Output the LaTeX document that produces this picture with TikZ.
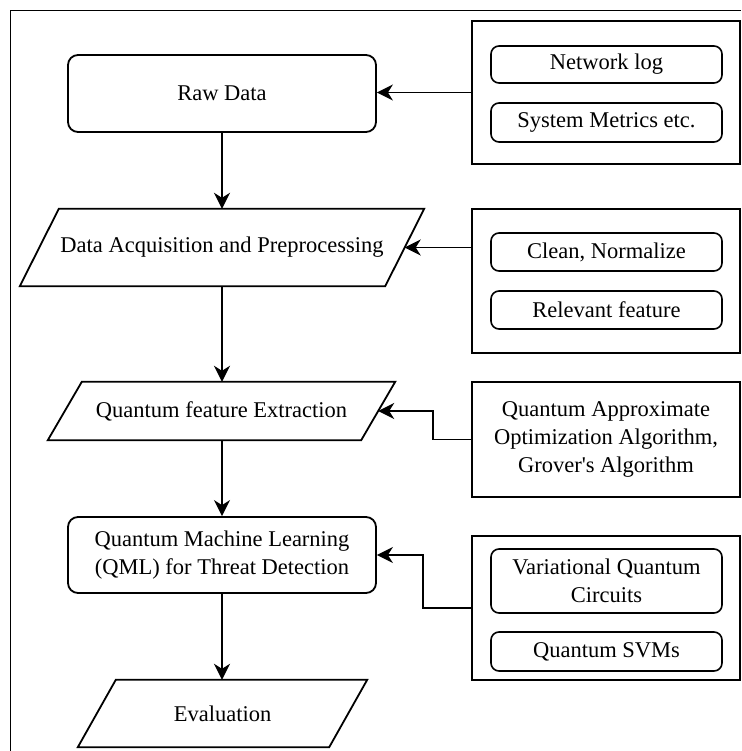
\documentclass[tikz,border=0pt]{standalone}
\usepackage{fontspec}
\setmainfont{Liberation Serif}
\usetikzlibrary{arrows.meta}
\begin{document}
\begin{tikzpicture}[x=1pt,y=-1pt,
  every node/.style={font=\fontsize{22.5}{28}\selectfont, align=center, inner sep=0pt},
  rbox/.style={draw, line width=1.8pt, rounded corners=10pt, minimum width=308pt},
  parabody/.style={rectangle, minimum width=#1},
  paraline/.style={line width=1.8pt, line join=miter},
  panel/.style={draw, line width=1.8pt, minimum width=268pt},
  ibox/.style={draw, line width=1.6pt, rounded corners=8pt, minimum width=231pt},
  arr/.style={line width=1.8pt, -{Stealth[length=16pt,width=16pt,inset=5pt]}},
  frame/.style={line width=1.2pt}
]
\useasboundingbox (0,0) rectangle (741,751);
\draw[frame] (10.7,751) -- (10.7,10.7) -- (741,10.7);

% main flow
\node[rbox, minimum height=77pt] (raw) at (222,93.5) {Raw Data};
\node[parabody=365pt, minimum height=77pt] (dap) at (222,247.5) {Data Acquisition and Preprocessing};
\draw[paraline] ([xshift=-19.5pt]dap.south west) -- ([xshift=-19.5pt]dap.south east) -- ([xshift=19.5pt]dap.north east) -- ([xshift=19.5pt]dap.north west) -- cycle;
\node[parabody=313pt, minimum height=58pt] (qfe) at (221.5,411) {Quantum feature Extraction};
\draw[paraline] ([xshift=-17pt]qfe.south west) -- ([xshift=-17pt]qfe.south east) -- ([xshift=17pt]qfe.north east) -- ([xshift=17pt]qfe.north west) -- cycle;
\node[rbox, minimum height=76pt] (qml) at (222,555) {Quantum Machine Learning\\(QML) for Threat Detection};
\node[parabody=251pt, minimum height=67pt] (eval) at (222.5,713.5) {Evaluation};
\draw[paraline] ([xshift=-19pt]eval.south west) -- ([xshift=-19pt]eval.south east) -- ([xshift=19pt]eval.north east) -- ([xshift=19pt]eval.north west) -- cycle;

% panels
\node[panel, minimum height=143pt] (p1) at (606,92.5) {};
\node[ibox, minimum height=37pt] (nl) at (606.5,64.5) {Network log};
\node[ibox, minimum height=39pt] (sm) at (606.5,122.5) {System Metrics etc.};

\node[panel, minimum height=144pt] (p2) at (606,281) {};
\node[ibox, minimum height=38pt] (cn) at (606.5,252) {Clean, Normalize};
\node[ibox, minimum height=38pt] (rf) at (606.5,310) {Relevant feature};

\node[panel, minimum height=115pt] (p3) at (606,439.5) {Quantum Approximate\\Optimization Algorithm,\\Grover\textquotesingle s Algorithm};

\node[panel, minimum height=144pt] (p4) at (606,608) {};
\node[ibox, minimum height=64pt] (vqc) at (606.5,581) {Variational Quantum\\Circuits};
\node[ibox, minimum height=39pt] (svm) at (606.5,651.5) {Quantum SVMs};

% vertical arrows
\draw[arr] (raw.south) -- (raw.south |- dap.north);
\draw[arr] (raw.south |- dap.south) -- (raw.south |- qfe.north);
\draw[arr] (raw.south |- qfe.south) -- (qml.north);
\draw[arr] (qml.south) -- (qml.south |- eval.north);

% side arrows
\draw[arr] (p1.west) -- (p1.west -| raw.east);
\draw[arr] (dap.east -| p2.west) -- (dap.east);
\draw[arr] (p3.west) -- ([xshift=-38pt]p3.west) |- (qfe.east);
\draw[arr] (p4.west) -- ([xshift=-48pt]p4.west) |- (qml.east);
\end{tikzpicture}
\end{document}
